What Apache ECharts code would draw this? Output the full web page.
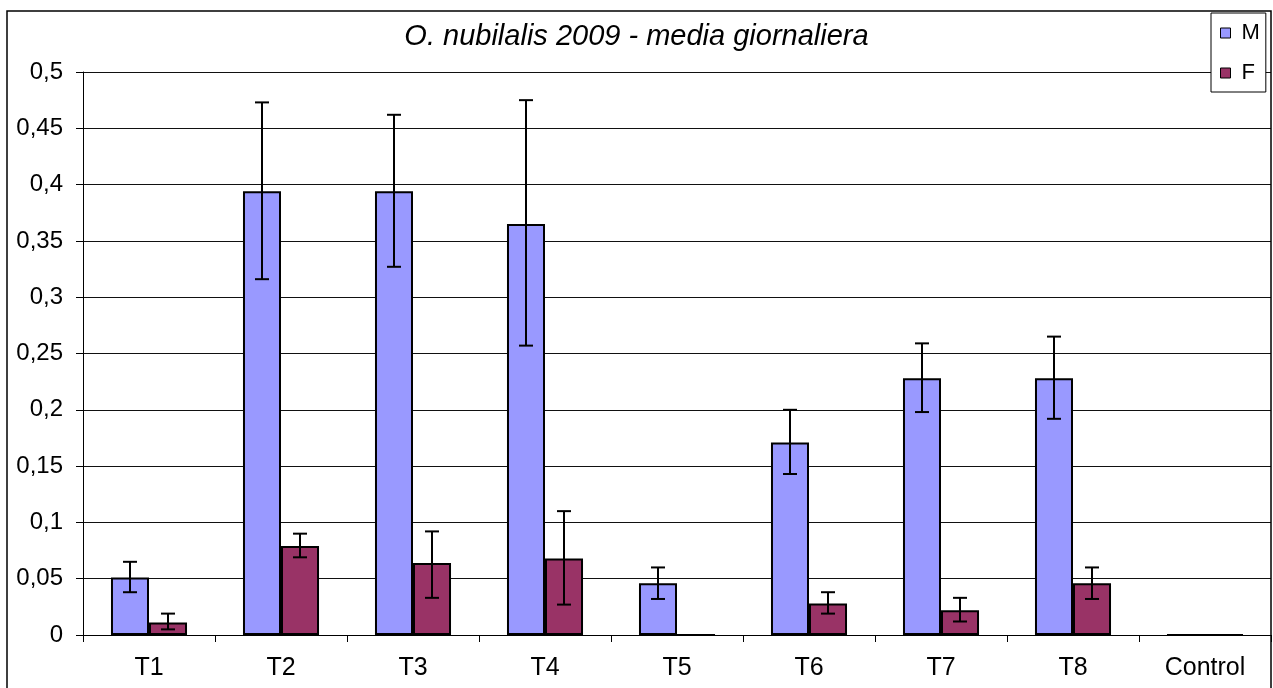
<!DOCTYPE html>
<html>
<head>
<meta charset="utf-8">
<script src="https://cdn.jsdelivr.net/npm/echarts@6/dist/echarts.min.js"></script>
<style>
html,body{margin:0;padding:0;background:#fff;}
#chart{width:1273px;height:688px;}
</style>
</head>
<body>
<div id="chart"></div>
<script>
// ---- data ----
const categories = ['T1','T2','T3','T4','T5','T6','T7','T8','Control'];
const seriesNames = ['M','F'];
const mValues = [0.051, 0.394, 0.394, 0.365, 0.046, 0.171, 0.228, 0.228, 0];
const fValues = [0.011, 0.079, 0.064, 0.068, 0, 0.028, 0.022, 0.046, 0];
const mErrLow  = [0.038, 0.316, 0.327, 0.257, 0.032, 0.143, 0.198, 0.192, null];
const mErrHigh = [0.065, 0.473, 0.462, 0.475, 0.060, 0.200, 0.259, 0.265, null];
const fErrLow  = [0.005, 0.069, 0.033, 0.027, null, 0.019, 0.012, 0.032, null];
const fErrHigh = [0.019, 0.090, 0.092, 0.110, null, 0.038, 0.033, 0.060, null];
const titleText = 'O. nubilalis 2009 - media giornaliera';
const yMin = 0, yMax = 0.5, yStep = 0.05;

const CAT_GAP = 0.424;
const FONT = '"Liberation Sans", Arial, sans-serif';

function errData(lo, hi) {
  const out = [];
  for (let i = 0; i < categories.length; i++) {
    if (lo[i] !== null && hi[i] !== null) out.push([i, lo[i], hi[i]]);
  }
  return out;
}
function errRender(side) {
  return function (params, api) {
    const idx = api.value(0);
    const band = api.size([1, 0])[0];
    const barW = band * (1 - CAT_GAP) / 2;
    const x = api.coord([idx, 0])[0] + side * barW / 2;
    const yLo = api.coord([idx, api.value(1)])[1];
    const yHi = api.coord([idx, api.value(2)])[1];
    const cap = 7;
    const st = { stroke: '#000', lineWidth: 2 };
    return {
      type: 'group',
      children: [
        { type: 'line', shape: { x1: x, y1: yLo, x2: x, y2: yHi }, style: st },
        { type: 'line', shape: { x1: x - cap, y1: yHi, x2: x + cap, y2: yHi }, style: st },
        { type: 'line', shape: { x1: x - cap, y1: yLo, x2: x + cap, y2: yLo }, style: st }
      ]
    };
  };
}

const chart = echarts.init(document.getElementById('chart'), null, { renderer: 'canvas' });
chart.setOption({
  backgroundColor: '#fff',
  animation: false,
  textStyle: { fontFamily: FONT },
  title: {
    text: titleText,
    left: 'center',
    top: 17,
    textStyle: { fontFamily: FONT, fontStyle: 'italic', fontWeight: 'normal', fontSize: 29, color: '#000' }
  },
  legend: {
    orient: 'vertical',
    left: 1211,
    top: 13,
    padding: [9, 6, 8, 9],
    itemGap: 18,
    itemWidth: 10,
    itemHeight: 10,
    backgroundColor: '#fff',
    borderColor: '#000',
    borderWidth: 1,
    icon: 'rect',
    itemStyle: { borderColor: '#000', borderWidth: 1 },
    textStyle: { fontFamily: FONT, fontSize: 22, color: '#000', lineHeight: 20, padding: [0, 0, 0, 6] },
    data: seriesNames
  },
  grid: { left: 83, right: 2, top: 72, bottom: 53, containLabel: false },
  xAxis: {
    type: 'category',
    data: categories,
    boundaryGap: true,
    axisLine: { lineStyle: { color: '#000', width: 1 } },
    axisTick: { show: true, length: 7, alignWithLabel: false, lineStyle: { color: '#000' } },
    axisLabel: { fontFamily: FONT, fontSize: 25, color: '#000', margin: 21 }
  },
  yAxis: {
    type: 'value',
    min: yMin, max: yMax, interval: yStep,
    axisLine: { show: true, lineStyle: { color: '#000', width: 1 } },
    axisTick: { show: true, length: 7, lineStyle: { color: '#000' } },
    splitLine: { show: true, lineStyle: { color: '#111', width: 1 } },
    axisLabel: {
      fontFamily: FONT, fontSize: 24, color: '#000', margin: 20,
      formatter: v => String(Math.round(v * 100) / 100).replace('.', ',')
    }
  },
  graphic: [
    { type: 'rect', z: 100, silent: true, shape: { x: 7, y: 11, width: 1264, height: 700 },
      style: { fill: null, stroke: '#000', lineWidth: 1.5 } }
  ],
  series: [
    { name: 'M', type: 'bar', data: mValues, barGap: '0%', barCategoryGap: (CAT_GAP * 100) + '%',
      itemStyle: { color: '#9999FF', borderColor: '#000', borderWidth: 2 } },
    { name: 'F', type: 'bar', data: fValues, barGap: '0%', barCategoryGap: (CAT_GAP * 100) + '%',
      itemStyle: { color: '#993366', borderColor: '#000', borderWidth: 2 } },
    { name: 'errM', type: 'custom', renderItem: errRender(-1), data: errData(mErrLow, mErrHigh), z: 10,
      encode: { x: 0, y: [1, 2] } },
    { name: 'errF', type: 'custom', renderItem: errRender(1), data: errData(fErrLow, fErrHigh), z: 10,
      encode: { x: 0, y: [1, 2] } }
  ]
});
</script>
</body>
</html>
